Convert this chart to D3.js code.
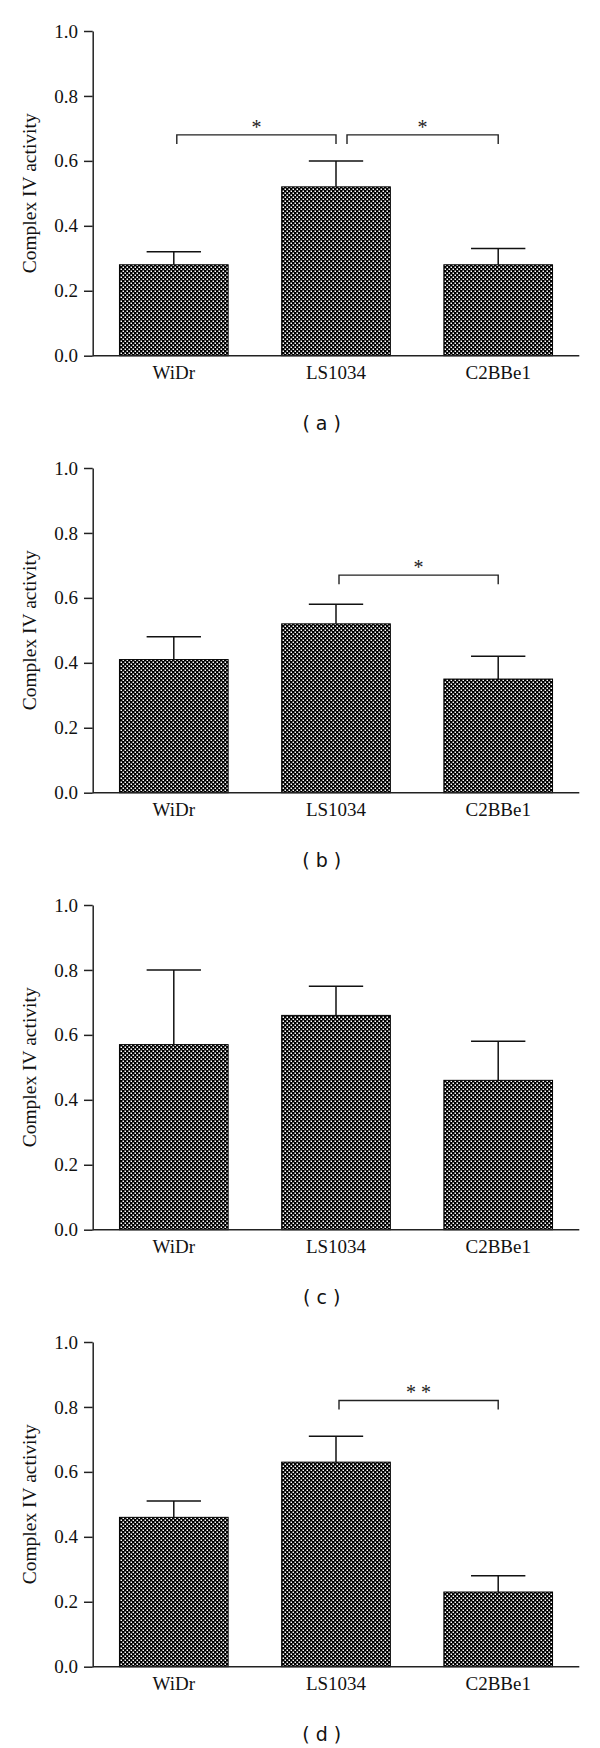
<!DOCTYPE html>
<html>
<head>
<meta charset="utf-8">
<script src="https://cdn.jsdelivr.net/npm/d3@7/dist/d3.min.js"></script>
<style>
  html, body { margin: 0; padding: 0; background: #fff; }
  svg { display: block; }
</style>
</head>
<body>
<div id="chart"></div>
<script>
// ---------- data ----------
const categories = ["WiDr", "LS1034", "C2BBe1"];
const yTicks = [0.0, 0.2, 0.4, 0.6, 0.8, 1.0];
const yLabel = "Complex IV activity";
const panelLabels = ["( a )", "( b )", "( c )", "( d )"];

const meansA = [0.28, 0.52, 0.28];
const semA   = [0.04, 0.08, 0.05];
const meansB = [0.41, 0.52, 0.35];
const semB   = [0.07, 0.06, 0.07];
const meansC = [0.57, 0.66, 0.46];
const semC   = [0.23, 0.09, 0.12];
const meansD = [0.46, 0.63, 0.23];
const semD   = [0.05, 0.08, 0.05];

const bracketsA = [
  { from: "WiDr", to: "LS1034", level: 0.68, label: "*" },
  { from: "LS1034", to: "C2BBe1", level: 0.68, label: "*" }
];
const bracketsB = [{ from: "LS1034", to: "C2BBe1", level: 0.67, label: "*" }];
const bracketsC = [];
const bracketsD = [{ from: "LS1034", to: "C2BBe1", level: 0.82, label: "* *" }];

const panels = [
  { label: panelLabels[0], means: meansA, sem: semA, brackets: bracketsA },
  { label: panelLabels[1], means: meansB, sem: semB, brackets: bracketsB },
  { label: panelLabels[2], means: meansC, sem: semC, brackets: bracketsC },
  { label: panelLabels[3], means: meansD, sem: semD, brackets: bracketsD }
];

// ---------- layout ----------
const W = 600, H = 1748;
const panelStep = 437;
const plotLeft = 92.7, plotRight = 579.3;
const plotTop = 31, plotBottom = 355.7;
const axisColor = "#222";
const serif = "'Liberation Serif', 'Times New Roman', serif";

const svg = d3.select("#chart").append("svg")
  .attr("width", W).attr("height", H);

// dotted fill pattern
const defs = svg.append("defs");
const pat = defs.append("pattern")
  .attr("id", "dots").attr("patternUnits", "userSpaceOnUse")
  .attr("width", 4).attr("height", 4);
pat.append("rect").attr("width", 4).attr("height", 4).attr("fill", "#000");
pat.append("rect").attr("x", 0.5).attr("y", 0.5).attr("width", 1.5).attr("height", 1.5).attr("fill", "#fff");
pat.append("rect").attr("x", 2.5).attr("y", 2.5).attr("width", 1.5).attr("height", 1.5).attr("fill", "#fff");

const x = d3.scaleBand().domain(categories)
  .range([plotLeft, plotRight]).paddingInner(0.33).paddingOuter(0.165);
const y = d3.scaleLinear().domain([0, 1]).range([plotBottom, plotTop]);
const bw = x.bandwidth();
const cx = c => x(c) + bw / 2;

panels.forEach((p, i) => {
  const g = svg.append("g").attr("transform", `translate(0,${i * panelStep})`);

  // bars
  g.selectAll("rect.bar").data(categories).join("rect")
    .attr("class", "bar")
    .attr("x", c => x(c))
    .attr("width", bw)
    .attr("y", (c, k) => y(p.means[k]))
    .attr("height", (c, k) => y(0) - y(p.means[k]))
    .attr("fill", "url(#dots)")
    .attr("stroke", "#000").attr("stroke-width", 1);

  // error bars (upper only)
  const eb = g.selectAll("g.err").data(categories).join("g").attr("class", "err");
  eb.append("line")
    .attr("x1", c => cx(c)).attr("x2", c => cx(c))
    .attr("y1", (c, k) => y(p.means[k]))
    .attr("y2", (c, k) => y(p.means[k] + p.sem[k]))
    .attr("stroke", "#111").attr("stroke-width", 1.5);
  eb.append("line")
    .attr("x1", c => cx(c) - bw / 4).attr("x2", c => cx(c) + bw / 4)
    .attr("y1", (c, k) => y(p.means[k] + p.sem[k]))
    .attr("y2", (c, k) => y(p.means[k] + p.sem[k]))
    .attr("stroke", "#111").attr("stroke-width", 1.5);

  // x axis
  const xa = g.append("g").attr("transform", `translate(0,${y(0)})`)
    .call(d3.axisBottom(x).tickSize(0).tickPadding(10));
  xa.select(".domain").attr("stroke", axisColor).attr("stroke-width", 1.5)
    .attr("d", `M${plotLeft},0H${plotRight}`);
  xa.selectAll("text").attr("font-family", serif).attr("font-size", 19).attr("fill", "#111");

  // y axis
  const ya = g.append("g").attr("transform", `translate(${plotLeft},0)`)
    .call(d3.axisLeft(y).tickValues(yTicks).tickFormat(d3.format(".1f"))
      .tickSize(8.7).tickSizeOuter(0).tickPadding(6));
  ya.select(".domain").attr("stroke", axisColor).attr("stroke-width", 1.5);
  ya.selectAll(".tick line").attr("stroke", axisColor).attr("stroke-width", 1.5);
  ya.selectAll("text").attr("font-family", serif).attr("font-size", 19).attr("fill", "#111");

  // y label
  g.append("text")
    .attr("transform", `translate(36,${(y(0) + y(1)) / 2}) rotate(-90)`)
    .attr("text-anchor", "middle")
    .attr("font-family", serif).attr("font-size", 19.5).attr("fill", "#111")
    .text(yLabel);

  // significance brackets
  p.brackets.forEach(b => {
    const sharedStart = p.brackets.some(o => o !== b && o.to === b.from);
    const x1 = cx(b.from) + (sharedStart ? 11 : 3);
    const x2 = cx(b.to);
    const yy = y(b.level);
    g.append("path")
      .attr("d", `M${x1},${yy + 9}V${yy}H${x2}V${yy + 9}`)
      .attr("fill", "none").attr("stroke", "#222").attr("stroke-width", 1.4);
    g.append("text")
      .attr("x", (x1 + x2) / 2).attr("y", yy - 1)
      .attr("text-anchor", "middle")
      .attr("font-family", serif).attr("font-size", 20).attr("fill", "#222")
      .text(b.label);
  });

  // panel label
  g.append("text")
    .attr("x", 321.7).attr("y", y(0) + 73.8)
    .attr("text-anchor", "middle")
    .attr("font-family", "'DejaVu Sans', sans-serif").attr("font-size", 19).attr("fill", "#111")
    .text(p.label);
});
</script>
</body>
</html>
